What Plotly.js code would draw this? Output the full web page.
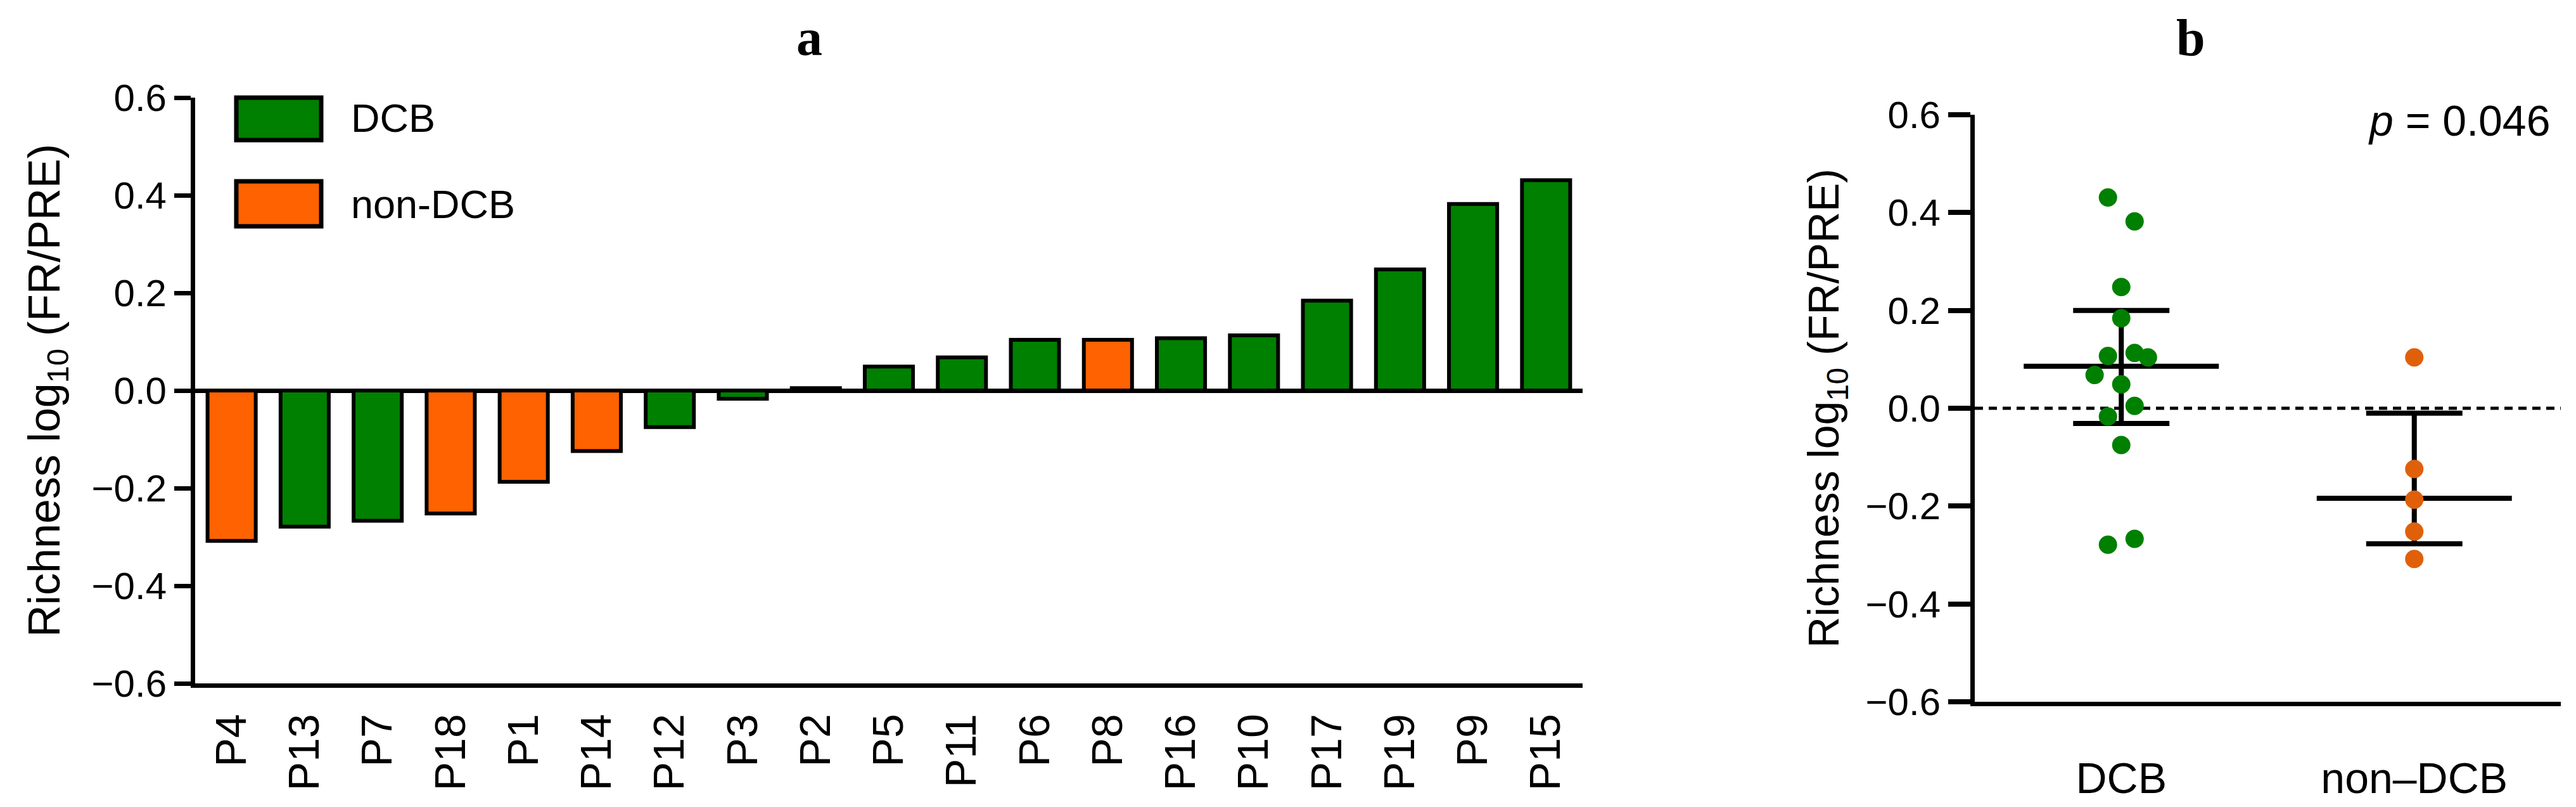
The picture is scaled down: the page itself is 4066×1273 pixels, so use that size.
<!DOCTYPE html>
<html>
<head>
<meta charset="utf-8">
<script src="https://cdn.plot.ly/plotly-3.0.1.min.js"></script>
<style>
html, body { margin: 0; padding: 0; background: #fff; }
#chart { width: 4066px; height: 1273px; }
</style>
</head>
<body>
<div id="chart"></div>
<script>
// panel a: patients sorted by change in richness
var patients = ["P4", "P13", "P7", "P18", "P1", "P14", "P12", "P3", "P2", "P5", "P11", "P6", "P8", "P16", "P10", "P17", "P19", "P9", "P15"];
var richness = [-0.308, -0.279, -0.267, -0.252, -0.187, -0.124, -0.075, -0.017, 0.005, 0.049, 0.068, 0.104, 0.104, 0.107, 0.113, 0.184, 0.248, 0.382, 0.431];
var response = ["non-DCB", "DCB", "DCB", "non-DCB", "non-DCB", "non-DCB", "DCB", "DCB", "DCB", "DCB", "DCB", "DCB", "non-DCB", "DCB", "DCB", "DCB", "DCB", "DCB", "DCB"];
// column of each patient's dot in the panel b scatter (0 = centre)
var swarmColumn = [0, -1, 1, 0, 0, 0, 0, -1, 1, 0, -2, 2, 0, -1, 1, 0, 0, 1, -1];

// panel b: groups and summary lines
var groups = ["DCB", "non-DCB"];
var groupLabels = ["DCB", "non\u2013DCB"];
var groupMean = [0.086, -0.184];
var groupUpper = [0.200, -0.010];
var groupLower = [-0.031, -0.277];
var pText = "<i>p</i> = 0.046";

var barColor = {"DCB": "#008000", "non-DCB": "#ff6200"};
var dotColor = {"DCB": "#008000", "non-DCB": "#e0600a"};
var FONT = "Liberation Sans, Arial, sans-serif";
var SERIF = "Liberation Serif, Times New Roman, serif";
var W = 4066, H = 1273;

var traces = [];

traces.push({
  type: "bar",
  x: patients,
  y: richness,
  width: 0.66,
  marker: {
    color: response.map(function (r) { return barColor[r]; }),
    line: {color: "#000", width: 6}
  },
  xaxis: "x",
  yaxis: "y",
  showlegend: false
});

// mean lines and error bars
groups.forEach(function (g, i) {
  traces.push({
    type: "scatter",
    mode: "lines",
    x: [i - 0.333, i + 0.333],
    y: [groupMean[i], groupMean[i]],
    line: {color: "#000", width: 8},
    xaxis: "x2",
    yaxis: "y2",
    showlegend: false
  });
  traces.push({
    type: "scatter",
    mode: "markers",
    x: [i],
    y: [groupMean[i]],
    marker: {size: 1, opacity: 0},
    error_y: {
      type: "data",
      symmetric: false,
      array: [groupUpper[i] - groupMean[i]],
      arrayminus: [groupMean[i] - groupLower[i]],
      color: "#000",
      thickness: 8,
      width: 76
    },
    xaxis: "x2",
    yaxis: "y2",
    showlegend: false
  });
});

// individual patients
groups.forEach(function (g, i) {
  var xs = [], ys = [];
  patients.forEach(function (p, k) {
    if (response[k] === g) {
      xs.push(i + swarmColumn[k] * 0.0455);
      ys.push(richness[k]);
    }
  });
  traces.push({
    type: "scatter",
    mode: "markers",
    x: xs,
    y: ys,
    marker: {color: dotColor[g], size: 29},
    xaxis: "x2",
    yaxis: "y2",
    showlegend: false
  });
});

var yTitle = "Richness log<sub>10</sub> (FR/PRE)";

var layout = {
  width: W,
  height: H,
  margin: {l: 0, r: 0, t: 0, b: 0},
  paper_bgcolor: "#fff",
  plot_bgcolor: "rgba(0,0,0,0)",
  font: {family: FONT, color: "#000"},
  showlegend: false,
  xaxis: {
    domain: [308 / W, 2498 / W],
    anchor: "y",
    type: "category",
    categoryorder: "array",
    categoryarray: patients,
    range: [-0.5, 18.5],
    showline: true,
    linewidth: 7,
    linecolor: "#000",
    ticks: "",
    tickangle: -90,
    ticklabelstandoff: 14,
    tickfont: {size: 68, family: FONT},
    showgrid: false,
    zeroline: false
  },
  yaxis: {
    domain: [1 - 1078 / H, 1 - 154 / H],
    anchor: "x",
    range: [-0.6, 0.6],
    tick0: 0,
    dtick: 0.2,
    tickformat: ".1f",
    showline: true,
    linewidth: 7,
    linecolor: "#000",
    ticks: "outside",
    ticklen: 26,
    tickwidth: 7,
    tickcolor: "#000",
    tickfont: {size: 60, family: FONT},
    showgrid: false,
    zeroline: true,
    zerolinewidth: 7,
    zerolinecolor: "#000",
    title: {text: yTitle, font: {size: 70, family: FONT}, standoff: 30}
  },
  xaxis2: {
    domain: [3117 / W, 4042 / W],
    anchor: "y2",
    range: [-0.5, 1.5],
    tickvals: [0, 1],
    ticktext: groupLabels,
    showline: true,
    linewidth: 7,
    linecolor: "#000",
    ticks: "",
    ticklabelstandoff: 55,
    tickfont: {size: 68, family: FONT},
    showgrid: false,
    zeroline: false
  },
  yaxis2: {
    domain: [1 - 1107 / H, 1 - 181 / H],
    anchor: "x2",
    range: [-0.6, 0.6],
    tick0: 0,
    dtick: 0.2,
    tickformat: ".1f",
    showline: true,
    linewidth: 7,
    linecolor: "#000",
    ticks: "outside",
    ticklen: 35,
    tickwidth: 8,
    tickcolor: "#000",
    tickfont: {size: 60, family: FONT},
    showgrid: false,
    zeroline: false,
    title: {text: yTitle, font: {size: 68, family: FONT}, standoff: 22}
  },
  shapes: [
    {type: "line", xref: "x2 domain", yref: "y2", x0: 0, x1: 1, y0: 0, y1: 0,
     line: {color: "#000", width: 5, dash: "13px,9px"}, layer: "below"},
    {type: "rect", xref: "paper", yref: "paper", x0: 373 / W, x1: 507 / W, y0: 1 - 221 / H, y1: 1 - 154 / H,
     fillcolor: barColor["DCB"], line: {color: "#000", width: 7}},
    {type: "rect", xref: "paper", yref: "paper", x0: 373 / W, x1: 507 / W, y0: 1 - 357 / H, y1: 1 - 286 / H,
     fillcolor: barColor["non-DCB"], line: {color: "#000", width: 7}}
  ],
  annotations: [
    {text: "<b>a</b>", xref: "paper", yref: "paper", x: 1277 / W, y: 1 - 60 / H, showarrow: false,
     xanchor: "center", yanchor: "middle", font: {family: SERIF, size: 82}},
    {text: "<b>b</b>", xref: "paper", yref: "paper", x: 3458 / W, y: 1 - 60 / H, showarrow: false,
     xanchor: "center", yanchor: "middle", font: {family: SERIF, size: 82}},
    {text: groups[0], xref: "paper", yref: "paper", x: 552 / W, y: 1 - 186 / H, showarrow: false,
     xanchor: "left", yanchor: "middle", font: {size: 63}},
    {text: groups[1], xref: "paper", yref: "paper", x: 552 / W, y: 1 - 322 / H, showarrow: false,
     xanchor: "left", yanchor: "middle", font: {size: 63}},
    {text: pText, xref: "paper", yref: "paper", x: 4028 / W, y: 1 - 190 / H, showarrow: false,
     xanchor: "right", yanchor: "middle", font: {size: 68}}
  ]
};

Plotly.newPlot("chart", traces, layout, {staticPlot: true, displayModeBar: false});
</script>
</body>
</html>
